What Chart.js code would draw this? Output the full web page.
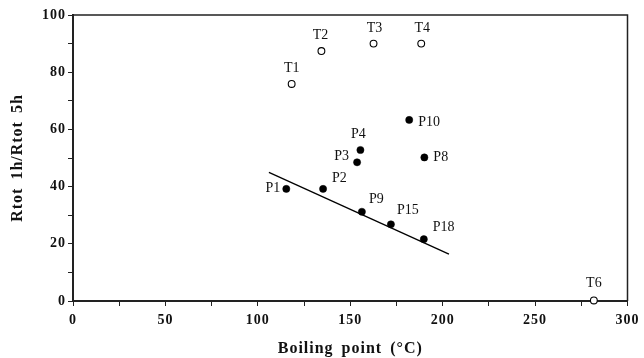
<!DOCTYPE html>
<html><head><meta charset="utf-8">
<script src="https://cdn.jsdelivr.net/npm/chart.js@4"></script>
<style>html,body{margin:0;padding:0;background:#fff}#wrap{width:644px;height:358px}</style>
</head><body><div id="wrap"><canvas id="c" width="644" height="358"></canvas></div>
<script>
// Data
const tLabels = ['T1','T2','T3','T4','T6'];
const tBoil   = [118.3,134.4,162.6,188.4,281.8];
const tRatio  = [75.9,87.4,90.0,90.0,0.2];
const pLabels = ['P1','P2','P3','P4','P8','P9','P10','P15','P18'];
const pBoil   = [115.4,135.3,153.7,155.5,190.1,156.3,181.9,172.0,189.8];
const pRatio  = [39.2,39.2,48.5,52.8,50.2,31.2,63.3,26.8,21.6];
const fitBoil = [106,203.4];
const fitRatio= [45.0,16.4];
const xTicks = [0,50,100,150,200,250,300];
const yTicks = [0,20,40,60,80,100];

// label placement (dx, dy, align)
const labelPos = {
  T1:[0,-16,'center'],T2:[-1,-16,'center'],T3:[1,-15,'center'],T4:[1,-15,'center'],T6:[0,-17,'center'],
  P1:[-6,-1,'right'],P2:[9,-11,'left'],P3:[-8,-6,'right'],P4:[-2,-16,'center'],P8:[9,0,'left'],
  P9:[7,-12,'left'],P10:[9,2,'left'],P15:[6,-14,'left'],P18:[9,-12,'left']
};

const pts = (xs,ys)=>xs.map((x,i)=>({x:x,y:ys[i]}));
const serif = "'Liberation Serif','Times New Roman',serif";

const plugin = {
  id:'extras',
  beforeDraw(chart){ chart.ctx.letterSpacing='1px'; chart.ctx.wordSpacing='3px'; },
  afterDatasetsDraw(chart){
    const ctx=chart.ctx, a=chart.chartArea;
    ctx.save();
    ctx.letterSpacing='0px'; ctx.wordSpacing='0px';
    ctx.strokeStyle='#222'; ctx.lineWidth=1.5;
    ctx.beginPath(); ctx.moveTo(a.left,a.top); ctx.lineTo(a.right,a.top); ctx.lineTo(a.right,a.bottom); ctx.stroke();
    ctx.fillStyle='#111'; ctx.font="14px "+serif; ctx.textBaseline='middle';
    chart.data.datasets.forEach((ds,di)=>{
      if(!ds.pointNames) return;
      const meta=chart.getDatasetMeta(di);
      meta.data.forEach((el,i)=>{
        const n=ds.pointNames[i], o=labelPos[n]||[0,-15,'center'];
        ctx.textAlign=o[2];
        ctx.fillText(n, el.x+o[0], el.y+o[1]);
      });
    });
    ctx.restore();
  }
};

new Chart(document.getElementById('c'),{
  type:'scatter',
  data:{datasets:[
    {type:'line',data:pts(fitBoil,fitRatio),borderColor:'#000',borderWidth:1.3,pointRadius:0,fill:false,order:3},
    {data:pts(pBoil,pRatio),pointNames:pLabels,backgroundColor:'#000',borderColor:'#000',pointRadius:3.6,pointBorderWidth:0.5,order:1},
    {data:pts(tBoil,tRatio),pointNames:tLabels,backgroundColor:'#fff',borderColor:'#000',pointRadius:3.4,pointBorderWidth:1.1,clip:false,order:2}
  ]},
  options:{
    responsive:false,animation:false,
    layout:{padding:{top:15,right:14,left:0,bottom:0}},
    plugins:{legend:{display:false},tooltip:{enabled:false}},
    scales:{
      x:{type:'linear',min:0,max:300,
        afterFit(s){s.height=57;},
        border:{display:true,color:'#222',width:2},
        grid:{display:true,drawOnChartArea:false,drawTicks:true,tickLength:5,color:'#222',lineWidth:1},
        ticks:{stepSize:25,autoSkip:false,maxRotation:0,padding:6,color:'#111',font:{family:serif,size:14,weight:'bold'},
          callback:v=>xTicks.includes(v)?String(v):''},
        title:{display:true,text:'Boiling point (°C)',color:'#111',font:{family:serif,size:16,weight:'bold'},padding:{top:0,bottom:0}}
      },
      y:{type:'linear',min:0,max:100,
        afterFit(s){s.width=73;},
        border:{display:true,color:'#222',width:2},
        grid:{display:true,drawOnChartArea:false,drawTicks:true,tickLength:5,color:'#222',lineWidth:1},
        ticks:{stepSize:10,autoSkip:false,padding:2,color:'#111',font:{family:serif,size:14,weight:'bold'},
          callback:v=>yTicks.includes(v)?String(v):''},
        title:{display:true,text:'Rtot 1h/Rtot 5h',color:'#111',font:{family:serif,size:16,weight:'bold'},padding:{top:8,bottom:0}}
      }
    }
  },
  plugins:[plugin]
});
</script></body></html>
